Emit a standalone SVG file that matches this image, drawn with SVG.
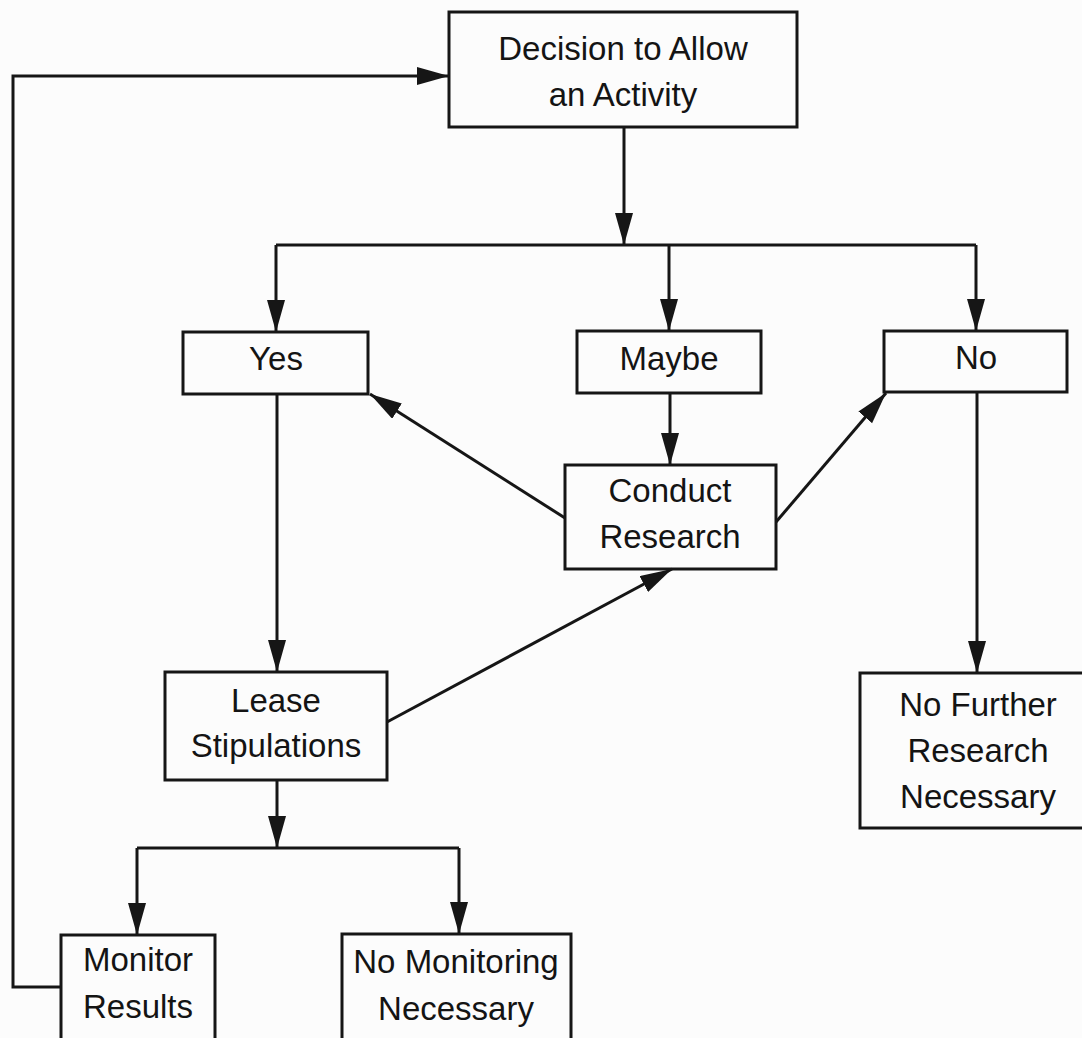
<svg xmlns="http://www.w3.org/2000/svg" width="1082" height="1038" viewBox="0 0 1082 1038">
  <style>
    .box { fill: none; stroke: #161616; stroke-width: 3; }
    .lbl { font-family: "Liberation Sans", Arial, Helvetica, sans-serif; font-size: 33px; fill: #141414; text-anchor: middle; }
    .wire { fill: none; stroke: #161616; stroke-width: 3; }
    .arrow { marker-end: url(#head); }
  </style>
  <defs>
    <marker id="head" markerUnits="userSpaceOnUse" markerWidth="34" markerHeight="20" refX="32" refY="9" orient="auto">
      <path d="M0,0 L32,9 L0,18 Z" fill="#161616"/>
    </marker>
  </defs>
  <rect width="1082" height="1038" fill="#fcfcfc"/>

  <!-- connectors -->
  <g id="connectors">
    <!-- feedback loop: monitoring back to the decision -->
    <polyline class="wire arrow" points="61,987 13,987 13,76 449,76"/>
    <!-- decision splits three ways -->
    <line class="wire arrow" x1="624" y1="127" x2="624" y2="245"/>
    <line class="wire" x1="276" y1="245" x2="976" y2="245"/>
    <line class="wire arrow" x1="276" y1="245" x2="276" y2="332"/>
    <line class="wire arrow" x1="669" y1="245" x2="669" y2="331"/>
    <line class="wire arrow" x1="976" y1="245" x2="976" y2="331"/>
    <!-- maybe leads to research -->
    <line class="wire arrow" x1="670" y1="393" x2="670" y2="465"/>
    <!-- research outcomes -->
    <line class="wire arrow" x1="565" y1="518" x2="370" y2="394"/>
    <line class="wire arrow" x1="776" y1="522" x2="886" y2="393"/>
    <!-- yes leads to lease stipulations -->
    <line class="wire arrow" x1="277" y1="394" x2="277" y2="672"/>
    <!-- stipulations feed research -->
    <line class="wire arrow" x1="387" y1="722" x2="672" y2="569"/>
    <!-- no leads to end of research -->
    <line class="wire arrow" x1="977" y1="392" x2="977" y2="673"/>
    <!-- stipulations split into monitoring options -->
    <line class="wire arrow" x1="277" y1="780" x2="277" y2="848"/>
    <line class="wire" x1="137" y1="848" x2="459" y2="848"/>
    <line class="wire arrow" x1="137" y1="848" x2="137" y2="935"/>
    <line class="wire arrow" x1="459" y1="848" x2="459" y2="934"/>
  </g>

  <g id="decision">
    <rect class="box" x="449" y="12" width="348" height="115"/>
    <text class="lbl" x="623" y="60">Decision to Allow</text>
    <text class="lbl" x="623" y="106">an Activity</text>
  </g>

  <g id="yes">
    <rect class="box" x="183" y="332" width="185" height="62"/>
    <text class="lbl" x="276" y="370">Yes</text>
  </g>

  <g id="maybe">
    <rect class="box" x="577" y="331" width="184" height="62"/>
    <text class="lbl" x="669" y="370">Maybe</text>
  </g>

  <g id="no">
    <rect class="box" x="884" y="331" width="183" height="61"/>
    <text class="lbl" x="976" y="369">No</text>
  </g>

  <g id="conduct-research">
    <rect class="box" x="565" y="465" width="211" height="104"/>
    <text class="lbl" x="670" y="502">Conduct</text>
    <text class="lbl" x="670" y="548">Research</text>
  </g>

  <g id="lease-stipulations">
    <rect class="box" x="165" y="672" width="222" height="108"/>
    <text class="lbl" x="276" y="712">Lease</text>
    <text class="lbl" x="276" y="757">Stipulations</text>
  </g>

  <g id="no-further-research">
    <rect class="box" x="860" y="673" width="236" height="155"/>
    <text class="lbl" x="978" y="716">No Further</text>
    <text class="lbl" x="978" y="762">Research</text>
    <text class="lbl" x="978" y="808">Necessary</text>
  </g>

  <g id="monitor-results">
    <rect class="box" x="61" y="935" width="154" height="120"/>
    <text class="lbl" x="138" y="971">Monitor</text>
    <text class="lbl" x="138" y="1018">Results</text>
  </g>

  <g id="no-monitoring">
    <rect class="box" x="342" y="934" width="229" height="120"/>
    <text class="lbl" x="456" y="973">No Monitoring</text>
    <text class="lbl" x="456" y="1020">Necessary</text>
  </g>
</svg>
